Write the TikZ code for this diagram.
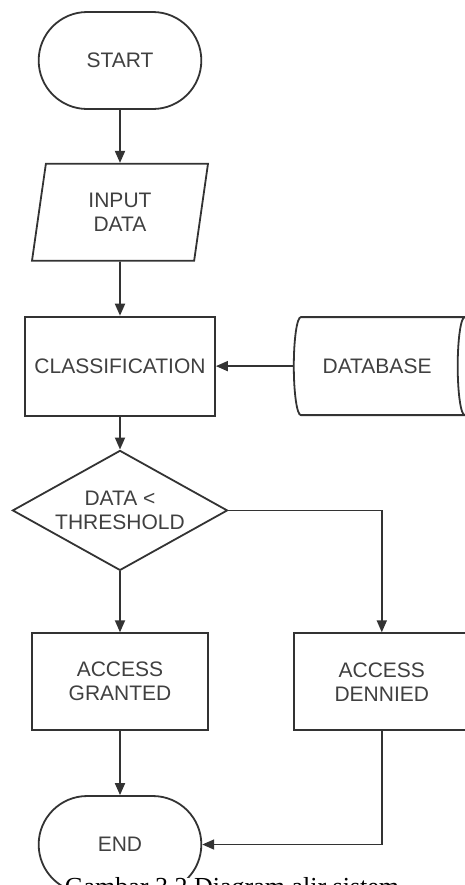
\documentclass[tikz,border=0pt]{standalone}
\usepackage{fontspec}
\setmainfont{Liberation Sans}
\newfontfamily\capfont{Liberation Serif}
\usepackage{tikz}
\usetikzlibrary{arrows.meta,shapes.geometric,shapes.misc,positioning}
\definecolor{lineclr}{HTML}{333333}
\definecolor{txtclr}{HTML}{404040}

\begin{document}
\begin{tikzpicture}[->,>={Triangle[width=5pt,length=6pt]},line width=0.9pt,color=lineclr,
	every node/.style={font=\fontsize{10.5}{12}\selectfont,text=txtclr,align=center,draw=lineclr},
	term/.style={rounded rectangle,minimum width=88pt,minimum height=48.5pt},
	io/.style={trapezium,trapezium left angle=75,trapezium right angle=105,trapezium stretches body,minimum width=88pt,minimum height=48.5pt},
	box/.style={rectangle,minimum width=88pt,minimum height=48.5pt},
	store/.style={cylinder,aspect=0.5,minimum width=49pt,minimum height=89pt},
	cond/.style={diamond,aspect=1.8,inner sep=0pt,minimum width=107.5pt,minimum height=60pt}]
	\useasboundingbox (0,0) rectangle (232.5pt,-442.5pt);

	\node[term] (start) at (60pt,-30.25pt) {START};
	\node[io] (in) [below=26.5pt of start] {INPUT\\DATA};
	\node[box,minimum width=95pt,minimum height=49.5pt] (cls) [below=27pt of in] {CLASSIFICATION};
	\node[store] (db) [right=38.5pt of cls] {DATABASE};
	\node[cond] (dec) [below=16.5pt of cls] {DATA <\\THRESHOLD};
	\node[box] (ok) [below=30.5pt of dec] {ACCESS\\GRANTED};
	\node[box] (no) [right=42pt of ok] {ACCESS\\DENNIED};
	\node[term] (end) [below=32pt of ok] {END};
	\node[draw=none,fill=white,inner sep=0pt,anchor=north,text=black,font=\capfont\fontsize{13}{15}\selectfont] (cap) at (116pt,-438.5pt) {Gambar 3.2 Diagram alir sistem};

	\path
		(start) edge (in)
		(in) edge (cls)
		(db) edge (cls)
		(cls) edge (dec)
		(dec) edge (ok)
		(ok) edge (end)
	;
	\draw (dec.east) -| (no.north);
	\draw (no.south) |- (end.east);
\end{tikzpicture}
\end{document}
